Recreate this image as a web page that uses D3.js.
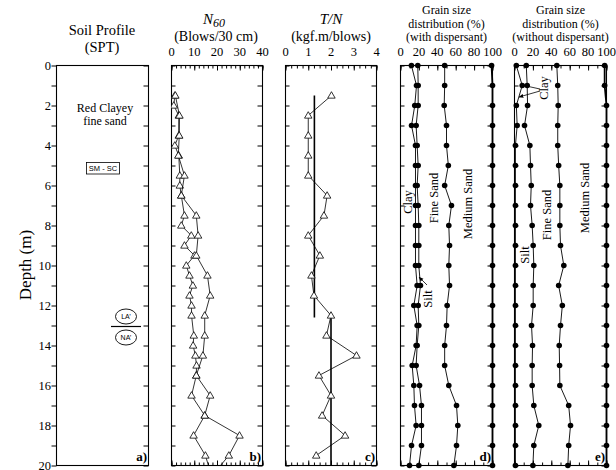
<!DOCTYPE html>
<html>
<head>
<meta charset="utf-8">
<script src="https://cdn.jsdelivr.net/npm/d3@7"></script>
<style>
  body { margin: 0; background: #fff; }
  text { font-family: "Liberation Serif", "Times New Roman", serif; fill: #000; }
</style>
</head>
<body>
<svg id="chart" width="616" height="470"></svg>
<script>
// depth ticks and labels
const depthTicks = [0, 1, 2, 3, 4, 5, 6, 7, 8, 9, 10, 11, 12, 13, 14, 15, 16, 17, 18, 19, 20];
const depthLabels = [0, 2, 4, 6, 8, 10, 12, 14, 16, 18, 20];

// b) N60, two borings
const n60Depth1 = [1.5, 2.0, 2.5, 3.5, 4.0, 4.5, 5.5, 6.0, 6.5, 7.5, 8.0, 8.5, 9.0, 9.5, 10.0, 10.5, 11.0, 11.5, 12.0, 12.5, 13.5, 14.0, 14.5, 15.0, 15.5, 16.5, 17.5, 18.5, 19.5, 20.5];
const n60Value1 = [1.45, 1.0, 3.2, 3.2, 1.45, 3.2, 3.65, 3.65, 4.3, 5.7, 4.3, 8.7, 5.7, 10.1, 6.5, 7.9, 9.4, 7.9, 8.8, 8.8, 9.8, 9.5, 10.5, 11.0, 10.9, 8.8, 14.6, 9.7, 14.9, 17.6];
const n60Depth2 = [1.5, 2.5, 3.5, 4.5, 5.5, 6.5, 7.5, 8.5, 9.5, 10.5, 11.5, 12.5, 13.5, 14.5, 15.5, 16.5, 17.5, 18.5, 19.5, 20.5];
const n60Value2 = [1.7, 3.5, 3.4, 3.0, 5.7, 4.3, 10.9, 11.7, 10.9, 15.8, 17.0, 14.6, 14.6, 13.8, 10.9, 17.0, 14.6, 29.9, 25.2, 17.9];
const n60Ticks = [0, 10, 20, 30, 40];

// c) T/N
const tnDepth = [1.5, 2.5, 3.5, 4.5, 5.5, 6.5, 7.5, 8.5, 9.5, 10.5, 11.5, 12.5, 13.5, 14.5, 15.5, 16.5, 17.5, 18.5, 19.5];
const tnValue = [2.02, 1.0, 1.0, 1.0, 1.0, 1.83, 1.69, 1.0, 1.51, 1.14, 1.25, 2.0, 1.8, 3.12, 1.47, 2.0, 1.61, 2.62, 1.35];
const tnMeanValue = [1.27, 2.0];
const tnMeanTop = [1.5, 12.4];
const tnMeanBottom = [12.6, 20];
const tnTicks = [0, 1, 2, 3, 4];

// d) and e) grain size, cumulative %
const gsDepth = [0, 1, 2, 3, 4, 5, 6, 7, 8, 9, 10, 11, 12, 13, 14, 15, 16, 17, 18, 19, 20];
const clayWith = [11.9, 17.4, 15.5, 12.0, 16.3, 16.3, 16.3, 16.3, 16.3, 16.3, 16.3, 18.1, 14.5, 18.1, 17.0, 12.7, 14.5, 15.2, 17.0, 12.0, 9.8];
const siltWith = [18.8, 19.2, 19.2, 17.0, 18.1, 19.2, 18.1, 19.2, 19.9, 19.9, 19.9, 21.7, 19.2, 19.9, 18.1, 17.0, 20.7, 22.8, 22.8, 22.8, 19.9];
const fineWith = [48, 48, 47.5, 50, 50, 52, 48, 55.4, 52.5, 53.3, 52.5, 53.3, 50.7, 50, 48, 48, 52.5, 60.9, 62.3, 60.9, 58];
const mediumWith = [99, 100, 100, 100, 100, 100, 100, 100, 100, 100, 100, 100, 100, 100, 100, 100, 100, 100, 100, 100, 100];
const clayWithout = [2, 8.4, 2, 2.9, 1, 1, 1, 1, 1, 1, 1, 1, 1, 1, 1, 1, 1, 1, 1, 1, 1];
const siltWithout = [12.8, 13.8, 14.2, 10.9, 16.7, 17.4, 18.2, 17.4, 19.2, 20.3, 21, 20.3, 20.3, 18.5, 19.6, 19.2, 19.2, 21, 26.4, 21, 20];
const fineWithout = [46, 47, 47.5, 47, 47, 48, 49.3, 49.3, 49.3, 50, 53.6, 48, 52, 50, 48.6, 49, 49.3, 58.9, 60.9, 58.9, 58];
const mediumWithout = [98, 98, 100, 100, 100, 100, 100, 100, 100, 100, 100, 100, 100, 100, 100, 100, 100, 100, 100, 100, 100];
const gsTicks = [0, 20, 40, 60, 80, 100];

const svg = d3.select('#chart');
const y = d3.scaleLinear().domain([0, 20]).range([65.5, 465.5]);

const xa = d3.scaleLinear().domain([0, 1]).range([56.5, 148.5]);
const xb = d3.scaleLinear().domain([0, 40]).range([171.5, 262.5]);
const xc = d3.scaleLinear().domain([0, 4]).range([285.5, 376.5]);
const xd = d3.scaleLinear().domain([0, 100]).range([400.5, 492.5]);
const xe = d3.scaleLinear().domain([0, 100]).range([514.5, 606.5]);

const defs = svg.append('defs');
defs.append('marker').attr('id', 'arrow').attr('viewBox', '0 0 10 10')
  .attr('refX', 9).attr('refY', 5).attr('markerWidth', 6).attr('markerHeight', 6)
  .attr('orient', 'auto')
  .append('path').attr('d', 'M0,1 L10,5 L0,9 z').attr('fill', '#000');

function clipFor(id, x) {
  defs.append('clipPath').attr('id', id)
    .append('rect').attr('x', x.range()[0]).attr('y', y(0))
    .attr('width', x.range()[1] - x.range()[0]).attr('height', y(20) - y(0));
  return `url(#${id})`;
}

function strip(g) {
  g.select('.domain').remove();
  g.selectAll('.tick line').attr('stroke', '#000');
}

// frame + depth ticks
function frame(x, inwardLeft) {
  const [l, r] = x.range();
  const g = svg.append('g');
  g.append('g').attr('transform', `translate(${l},0)`)
    .call(d3.axisLeft(y).tickValues(depthTicks).tickSize(inwardLeft ? -4 : 5).tickFormat(''))
    .call(strip);
  g.append('g').attr('transform', `translate(${r},0)`)
    .call(d3.axisRight(y).tickValues(depthTicks).tickSize(-5).tickFormat(''))
    .call(strip);
  g.append('rect').attr('x', l).attr('y', y(0)).attr('width', r - l).attr('height', y(20) - y(0))
    .attr('fill', 'none').attr('stroke', '#000').attr('stroke-width', 1.1);
  return g;
}

function topBottom(x, minor, major, labels) {
  [[d3.axisTop, y(0)], [d3.axisBottom, y(20)]].forEach(([ax, yy]) => {
    svg.append('g').attr('transform', `translate(0,${yy})`)
      .call(ax(x).tickValues(minor).tickSize(-3).tickFormat('')).call(strip);
    svg.append('g').attr('transform', `translate(0,${yy})`)
      .call(ax(x).tickValues(major).tickSize(-5).tickFormat('')).call(strip);
  });
  svg.append('g').selectAll('text').data(labels).join('text')
    .attr('x', (d) => x(d)).attr('y', 56).attr('text-anchor', 'middle')
    .attr('font-size', 12.5).text((d) => d);
}

function panelLetter(x, s) {
  svg.append('text').attr('x', x.range()[1] - 1.5).attr('y', 461).attr('text-anchor', 'end')
    .attr('font-size', 13).attr('font-weight', 'bold').text(s);
}

function rotLabel(px, py, s, size) {
  svg.append('text').attr('transform', `translate(${px},${py}) rotate(-90)`)
    .attr('text-anchor', 'middle').attr('dy', '0.35em').attr('font-size', size || 12.5).text(s);
}

function arrow(x1, y1, x2, y2) {
  svg.append('line').attr('x1', x1).attr('y1', y1).attr('x2', x2).attr('y2', y2)
    .attr('stroke', '#000').attr('stroke-width', 0.8).attr('marker-end', 'url(#arrow)');
}

// ---------- a) soil profile ----------
frame(xa, false);
svg.append('g').selectAll('text').data(depthLabels).join('text')
  .attr('x', 51).attr('y', (d) => y(d)).attr('dy', '0.35em').attr('text-anchor', 'end')
  .attr('font-size', 12.5).text((d) => d);
svg.append('text').attr('transform', `translate(25,265) rotate(-90)`).attr('text-anchor', 'middle')
  .attr('dy', '0.35em').attr('font-size', 17).text('Depth (m)');
svg.append('text').attr('x', 102).attr('y', 35).attr('text-anchor', 'middle').attr('font-size', 14.5).text('Soil Profile');
svg.append('text').attr('x', 102).attr('y', 52).attr('text-anchor', 'middle').attr('font-size', 14.5).text('(SPT)');
svg.append('text').attr('x', 105).attr('y', 112).attr('text-anchor', 'middle').attr('font-size', 12).text('Red Clayey');
svg.append('text').attr('x', 105).attr('y', 125).attr('text-anchor', 'middle').attr('font-size', 12).text('fine sand');
svg.append('rect').attr('x', 86.5).attr('y', 162.5).attr('width', 33).attr('height', 11.5)
  .attr('fill', 'none').attr('stroke', '#000').attr('stroke-width', 0.8);
svg.append('text').attr('x', 103).attr('y', 171.2).attr('text-anchor', 'middle')
  .style('font-family', '"Liberation Sans", Arial, sans-serif').attr('font-size', 7.5).text('SM - SC');
[['LA\u2019', 316.5], ['NA\u2019', 337.5]].forEach(([s, cy]) => {
  svg.append('ellipse').attr('cx', 126).attr('cy', cy).attr('rx', 10.5).attr('ry', 7.5)
    .attr('fill', 'none').attr('stroke', '#000').attr('stroke-width', 0.9);
  svg.append('text').attr('x', 126).attr('y', cy).attr('dy', '0.35em').attr('text-anchor', 'middle')
    .style('font-family', '"Liberation Sans", Arial, sans-serif').attr('font-size', 7).text(s);
});
svg.append('line').attr('x1', 111).attr('x2', 141).attr('y1', 326.5).attr('y2', 326.5)
  .attr('stroke', '#000').attr('stroke-width', 1.2);
panelLetter(xa, 'a)');

// ---------- b) N60 ----------
frame(xb, true);
topBottom(xb, d3.range(0, 41, 2), n60Ticks, n60Ticks);
const tN = svg.append('text').attr('x', 214).attr('y', 24).attr('text-anchor', 'middle').attr('font-style', 'italic');
tN.append('tspan').attr('font-size', 15).text('N');
tN.append('tspan').attr('font-size', 12).attr('dy', 3).text('60');
svg.append('text').attr('x', 216).attr('y', 41).attr('text-anchor', 'middle').attr('font-size', 14).text('(Blows/30 cm)');

const triangle = d3.symbol(d3.symbolTriangle).size(24);
const clipB = clipFor('clipB', xb);
[[n60Depth1, n60Value1], [n60Depth2, n60Value2]].forEach(([dep, val]) => {
  const pts = dep.map((d, i) => [xb(val[i]), y(d)]);
  const g = svg.append('g').attr('clip-path', clipB);
  g.append('path').attr('d', d3.line()(pts)).attr('fill', 'none').attr('stroke', '#000').attr('stroke-width', 0.8);
  g.selectAll('path.m').data(pts).join('path').attr('class', 'm')
    .attr('transform', (p) => `translate(${p[0]},${p[1] + 0.5})`).attr('d', triangle)
    .attr('fill', '#fff').attr('stroke', '#000').attr('stroke-width', 0.8);
});
panelLetter(xb, 'b)');

// ---------- c) T/N ----------
frame(xc, true);
topBottom(xc, d3.range(0, 4.01, 0.25), tnTicks, tnTicks);
svg.append('text').attr('x', 331).attr('y', 24).attr('text-anchor', 'middle').attr('font-style', 'italic')
  .attr('font-size', 15).text('T/N');
svg.append('text').attr('x', 331).attr('y', 41).attr('text-anchor', 'middle').attr('font-size', 14).text('(kgf.m/blows)');
tnMeanValue.forEach((v, i) => {
  svg.append('line').attr('x1', xc(v)).attr('x2', xc(v)).attr('y1', y(tnMeanTop[i])).attr('y2', y(tnMeanBottom[i]))
    .attr('stroke', '#000').attr('stroke-width', 1.6);
});
const tnPts = tnDepth.map((d, i) => [xc(tnValue[i]), y(d)]);
svg.append('path').attr('d', d3.line()(tnPts)).attr('fill', 'none').attr('stroke', '#000').attr('stroke-width', 0.8);
svg.append('g').selectAll('path').data(tnPts).join('path')
  .attr('transform', (p) => `translate(${p[0]},${p[1] + 0.5})`).attr('d', triangle)
  .attr('fill', '#fff').attr('stroke', '#000').attr('stroke-width', 0.8);
panelLetter(xc, 'c)');

// ---------- d) / e) grain size ----------
function grainPanel(x, series, subtitle, letter) {
  frame(x, true);
  topBottom(x, d3.range(0, 101, 10), gsTicks, gsTicks);
  const cx = (x.range()[0] + x.range()[1]) / 2;
  ['Grain size', 'distribution (%)', subtitle].forEach((s, i) => {
    svg.append('text').attr('x', cx).attr('y', 14 + i * 13.5).attr('text-anchor', 'middle').attr('font-size', 12).text(s);
  });
  series.forEach((vals, k) => {
    const pts = gsDepth.map((d, i) => [x(vals[i]), y(d)]);
    svg.append('path').attr('d', d3.line()(pts)).attr('fill', 'none').attr('stroke', '#000')
      .attr('stroke-width', k === 3 ? 1.8 : 0.9);
    svg.append('g').selectAll('circle').data(pts).join('circle')
      .attr('cx', (p) => p[0]).attr('cy', (p) => p[1]).attr('r', 2.8).attr('fill', '#000');
  });
  panelLetter(x, letter);
}

grainPanel(xd, [clayWith, siltWith, fineWith, mediumWith], '(with dispersant)', 'd)');
rotLabel(408, 202, 'Clay');
rotLabel(434, 198, 'Fine Sand');
rotLabel(468, 204, 'Medium Sand');
rotLabel(428, 299, 'Silt');
arrow(427, 285, 419, 277);

grainPanel(xe, [clayWithout, siltWithout, fineWithout, mediumWithout], '(without dispersant)', 'e)');
rotLabel(544, 88, 'Clay');
rotLabel(525, 255, 'Silt');
rotLabel(547, 215, 'Fine Sand');
rotLabel(585, 198, 'Medium Sand');
arrow(540, 89, 524, 85.5);
arrow(540, 91, 519, 97);
</script>
</body>
</html>
